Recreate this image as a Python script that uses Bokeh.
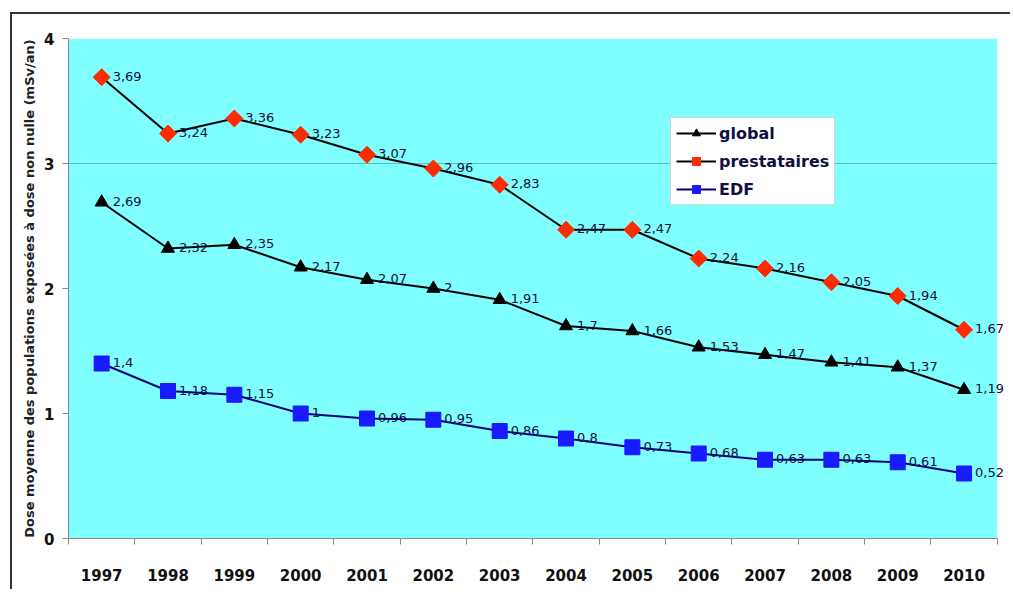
import math
from bokeh.plotting import figure
from bokeh.models import (ColumnDataSource, FixedTicker, CustomJSTickFormatter, Legend,
                          LegendItem, LabelSet, BoxAnnotation)
from bokeh.core.properties import value
from bokeh.embed import file_html
from bokeh.resources import INLINE

years = [1997, 1998, 1999, 2000, 2001, 2002, 2003, 2004, 2005, 2006, 2007, 2008, 2009, 2010]
global_vals = [2.69, 2.32, 2.35, 2.17, 2.07, 2.0, 1.91, 1.7, 1.66, 1.53, 1.47, 1.41, 1.37, 1.19]
prest_vals = [3.69, 3.24, 3.36, 3.23, 3.07, 2.96, 2.83, 2.47, 2.47, 2.24, 2.16, 2.05, 1.94, 1.67]
edf_vals = [1.4, 1.18, 1.15, 1.0, 0.96, 0.95, 0.86, 0.8, 0.73, 0.68, 0.63, 0.63, 0.61, 0.52]
y_ticks = [0, 1, 2, 3, 4]
y_label = "Dose moyenne des populations exposées à dose non nulle (mSv/an)"


def fmt(v):
    return f"{v:g}".replace(".", ",")


FONT = "DejaVu Sans"

x_lo = years[0] - 0.5
x_hi = years[-1] + 0.5
extra = 0.23  # white margin to the right of the plot area for the last labels

p = figure(width=1000, height=577, output_backend="svg", toolbar_location=None,
           x_range=(x_lo, x_hi + extra), y_range=(0, 4),
           min_border_left=56, min_border_right=0, min_border_top=24, min_border_bottom=53)
p.styles = {"border-left": "2px solid #333", "border-top": "2px solid #333",
            "margin-left": "10px", "margin-top": "12px"}
p.background_fill_color = "white"
p.border_fill_color = "white"
p.outline_line_color = None

p.add_layout(BoxAnnotation(left=x_lo, right=x_hi, fill_color="#7fffff", fill_alpha=1,
                           line_color=None, level="underlay"))

# axes
p.xaxis.bounds = (x_lo, x_hi)
p.xaxis.ticker = FixedTicker(ticks=years, minor_ticks=[y - 0.5 for y in years] + [x_hi])
p.xaxis.formatter = CustomJSTickFormatter(code="return String(Math.round(tick));")
p.xaxis.major_tick_out = 0
p.xaxis.major_tick_in = 0
p.xaxis.minor_tick_out = 6
p.xaxis.minor_tick_in = 0
p.xaxis.minor_tick_line_color = "#888888"
p.xaxis.major_label_standoff = 24
p.yaxis.ticker = FixedTicker(ticks=y_ticks)
p.yaxis.minor_tick_line_color = None
p.yaxis.major_tick_out = 6
p.yaxis.major_tick_in = 0
p.yaxis.major_label_standoff = 8
for ax in (p.xaxis, p.yaxis):
    ax.axis_line_color = "#888888"
    ax.major_tick_line_color = "#888888"
    ax.major_label_text_font = FONT
    ax.major_label_text_font_style = "bold"
    ax.major_label_text_font_size = "15px"
    ax.major_label_text_color = "#111111"
p.yaxis.axis_label = y_label
p.yaxis.axis_label_text_font = FONT
p.yaxis.axis_label_text_font_style = "bold"
p.yaxis.axis_label_text_font_size = "13px"
p.yaxis.axis_label_text_color = "#222222"
p.yaxis.axis_label_standoff = 4

p.xgrid.grid_line_color = None
p.ygrid.grid_line_color = None
# major gridline (only the one at 3 is visible in the original), limited to the plot area
p.segment(x0=[x_lo], x1=[x_hi], y0=[y_ticks[3]], y1=[y_ticks[3]],
          line_color="#5fa8a8", line_alpha=0.8, line_width=1)

series = [
    ("global", global_vals, "black", "triangle", "black", 13, 0),
    ("prestataires", prest_vals, "black", "square", "#ff2a00", 12, math.pi / 4),
    ("EDF", edf_vals, "#000080", "square", "#1a1aff", 15, 0),
]

items = []
for name, vals, lcol, marker, mcol, size, ang in series:
    src = ColumnDataSource(dict(x=years, y=vals, lab=[fmt(v) for v in vals]))
    r1 = p.line("x", "y", source=src, line_color=lcol, line_width=2)
    r2 = p.scatter("x", "y", source=src, marker=marker, size=size, angle=ang,
                   fill_color=mcol, line_color=mcol)
    labels = LabelSet(x="x", y="y", text="lab", source=src, x_offset=11, y_offset=1,
                      text_baseline="middle", text_align="left", text_font=value(FONT),
                      text_font_size="13px", text_color="#10103a")
    p.add_layout(labels)
    items.append(LegendItem(label=name, renderers=[r1, r2]))

legend = Legend(items=items, location=(602, 333))
legend.label_text_font = FONT
legend.label_text_font_style = "bold"
legend.label_text_font_size = "16px"
legend.label_text_color = "#101040"
legend.glyph_width = 40
legend.glyph_height = 20
legend.label_height = 20
legend.spacing = 8
legend.padding = 5
legend.margin = 0
legend.label_standoff = 3
legend.border_line_color = "#aaaaaa"
legend.background_fill_color = "white"
legend.background_fill_alpha = 1
p.add_layout(legend)

open("out.html", "w").write(file_html(p, INLINE))
